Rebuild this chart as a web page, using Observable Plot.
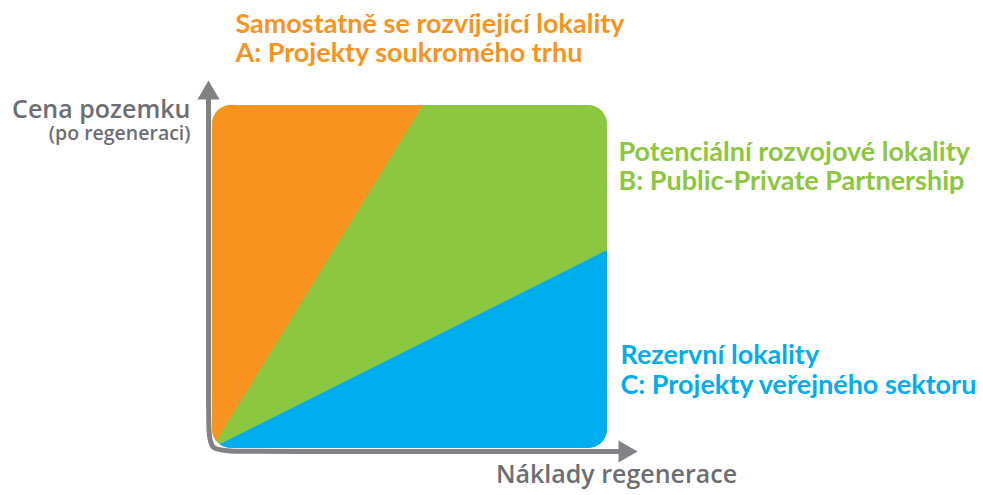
<!DOCTYPE html>
<html>
<head>
<meta charset="utf-8">
<script src="https://cdn.jsdelivr.net/npm/d3@7"></script>
<script src="https://cdn.jsdelivr.net/npm/@observablehq/plot@0.6"></script>
<style>
  html, body { margin: 0; padding: 0; background: #fff; }
  #chart svg { display: block; }
</style>
</head>
<body>
<div id="chart"></div>
<script>
// ---------- DATA ----------
const regionKeys = ["A", "B", "C"];
const regionTitles = ["Samostatně se rozvíjející lokality", "Potenciální rozvojové lokality", "Rezervní lokality"];
const regionSubtitles = ["A: Projekty soukromého trhu", "B: Public-Private Partnership", "C: Projekty veřejného sektoru"];
// A/B boundary (from origin) reaches the top edge at this share of the cost axis
const boundaryTopX = [0.534];
// B/C boundary (from origin) reaches the right edge at this share of the price axis
const boundaryRightY = [0.577];
const yAxisTitle = ["Cena pozemku", "(po regeneraci)"];
const xAxisTitle = ["Náklady regenerace"];

// ---------- LAYOUT / STYLE ----------
const W = 983, H = 495;
const colors = { A: "#F7931E", B: "#8DC63F", C: "#00AEEF" };
const axisGray = "#808285";
const textGray = "#6D6E71";
const labelAnchor = { A: [0.058, 1.1254], B: [1.0278, 0.7522], C: [1.0329, 0.1603] };
const axisX = -0.0101, axisY = -0.0087;

// region shapes built from the boundary values
const bTop = boundaryTopX[0], bRight = boundaryRightY[0];
const areaB = [{ x: 0, y1: 0, y2: 1 }, { x: 1, y1: 0, y2: 1 }];
const areaA = [{ x: 0, y1: 0, y2: 1 }, { x: bTop, y1: 1, y2: 1 }];
const areaC = [{ x: 0, y1: 0, y2: 0 }, { x: 1, y1: 0, y2: bRight }];

const labels = regionKeys.map((k, i) => ({
  x: labelAnchor[k][0], y: labelAnchor[k][1],
  text: regionTitles[i] + "\n" + regionSubtitles[i], color: colors[k]
}));

// L-shaped axis with rounded corner
const axisPath = [
  { x: axisX, y: 1.02 }, { x: axisX, y: 0.07 }, { x: axisX, y: axisY },
  { x: 0.06, y: axisY }, { x: 1.035, y: axisY }
];
// arrow head symbols
const triUp = { draw(ctx, size) { const r = Math.sqrt(size / Math.PI);
  ctx.moveTo(0, -1.55 * r); ctx.lineTo(1.35 * r, 0.78 * r); ctx.lineTo(-1.35 * r, 0.78 * r); ctx.closePath(); } };
const triRight = { draw(ctx, size) { const r = Math.sqrt(size / Math.PI);
  ctx.moveTo(1.55 * r, 0); ctx.lineTo(-0.78 * r, 1.35 * r); ctx.lineTo(-0.78 * r, -1.35 * r); ctx.closePath(); } };

const plot = Plot.plot({
  width: W, height: H,
  marginLeft: 212, marginRight: 376, marginTop: 105, marginBottom: 47,
  x: { domain: [0, 1], axis: null },
  y: { domain: [0, 1], axis: null },
  color: { type: "identity" },
  style: { background: "#fff" },
  marks: [
    Plot.areaY(areaB, { x: "x", y1: "y1", y2: "y2", fill: colors.B }),
    Plot.areaY(areaA, { x: "x", y1: "y1", y2: "y2", fill: colors.A }),
    Plot.areaY(areaC, { x: "x", y1: "y1", y2: "y2", fill: colors.C }),
    Plot.line(axisPath, { x: "x", y: "y", stroke: axisGray, strokeWidth: 5, curve: "basis" }),
    Plot.dot([{ x: axisX, y: 1.036 }], { x: "x", y: "y", r: 8.2, symbol: triUp, fill: axisGray, stroke: "none" }),
    Plot.dot([{ x: 1.044, y: axisY }], { x: "x", y: "y", r: 8.2, symbol: triRight, fill: axisGray, stroke: "none" }),
    Plot.text(labels, { x: "x", y: "y", text: "text", fill: "color", textAnchor: "start", lineAnchor: "bottom",
      lineHeight: 1.08, fontSize: 27, fontWeight: "bold", fontFamily: "Lato" }),
    Plot.text([yAxisTitle[0]], { x: -0.0557, y: 0.965, text: d => d, fill: textGray, textAnchor: "end", lineAnchor: "bottom",
      fontSize: 25, fontWeight: 600, fontFamily: "Open Sans" }),
    Plot.text([yAxisTitle[1]], { x: -0.0557, y: 0.898, text: d => d, fill: textGray, textAnchor: "end", lineAnchor: "bottom",
      fontSize: 19.5, fontWeight: 600, fontFamily: "Open Sans" }),
    Plot.text(xAxisTitle, { x: 1.0228, y: -0.102, text: d => d, fill: textGray, textAnchor: "middle", lineAnchor: "bottom",
      fontSize: 25, fontWeight: 600, fontFamily: "Open Sans" })
  ]
});

// rounded clip for the coloured box, computed via the plot's scales
const sx = plot.scale("x"), sy = plot.scale("y");
const ns = "http://www.w3.org/2000/svg";
const defs = document.createElementNS(ns, "defs");
const cp = document.createElementNS(ns, "clipPath");
cp.setAttribute("id", "box-clip");
const rc = document.createElementNS(ns, "rect");
const x0 = sx.apply(0), x1 = sx.apply(1), y0 = sy.apply(0), y1 = sy.apply(1);
rc.setAttribute("x", x0); rc.setAttribute("y", y1);
rc.setAttribute("width", x1 - x0); rc.setAttribute("height", y0 - y1);
rc.setAttribute("rx", 19); rc.setAttribute("ry", 19);
cp.appendChild(rc); defs.appendChild(cp);
plot.insertBefore(defs, plot.firstChild);
plot.querySelectorAll('g[aria-label="area"]').forEach(g => g.setAttribute("clip-path", "url(#box-clip)"));

document.getElementById("chart").appendChild(plot);
</script>
</body>
</html>
